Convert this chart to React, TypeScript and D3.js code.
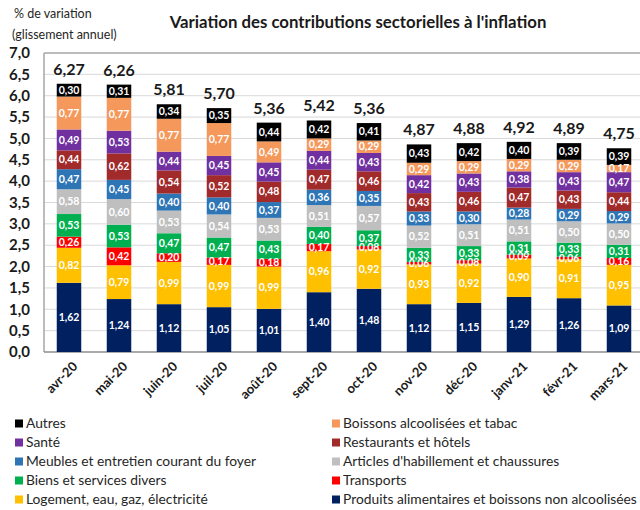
import React, { useRef, useEffect } from 'react';
import * as d3 from 'd3';

// months on the x axis
const months = ['avr-20', 'mai-20', 'juin-20', 'juil-20', 'août-20', 'sept-20', 'oct-20',
  'nov-20', 'déc-20', 'janv-21', 'févr-21', 'mars-21'];

// contributions, stacked from the bottom up
const alimentaires = [1.62, 1.24, 1.12, 1.05, 1.01, 1.40, 1.48, 1.12, 1.15, 1.29, 1.26, 1.09];
const logement = [0.82, 0.79, 0.99, 0.99, 0.99, 0.96, 0.92, 0.93, 0.92, 0.90, 0.91, 0.95];
const transports = [0.26, 0.42, 0.20, 0.17, 0.18, 0.17, 0.08, 0.06, 0.08, 0.09, 0.06, 0.16];
const biensDivers = [0.53, 0.53, 0.47, 0.47, 0.43, 0.40, 0.37, 0.33, 0.33, 0.31, 0.33, 0.31];
const habillement = [0.58, 0.60, 0.53, 0.54, 0.53, 0.51, 0.57, 0.52, 0.51, 0.51, 0.50, 0.50];
const meubles = [0.47, 0.45, 0.40, 0.40, 0.37, 0.36, 0.35, 0.33, 0.30, 0.28, 0.29, 0.29];
const restaurants = [0.44, 0.62, 0.54, 0.52, 0.48, 0.47, 0.46, 0.43, 0.46, 0.47, 0.43, 0.44];
const sante = [0.49, 0.53, 0.44, 0.45, 0.45, 0.44, 0.43, 0.42, 0.43, 0.38, 0.43, 0.47];
const boissons = [0.77, 0.77, 0.77, 0.77, 0.49, 0.29, 0.29, 0.29, 0.29, 0.29, 0.29, 0.17];
const autres = [0.30, 0.31, 0.34, 0.35, 0.44, 0.42, 0.41, 0.43, 0.42, 0.40, 0.39, 0.39];

// totals printed above the bars
const totals = [6.27, 6.26, 5.81, 5.70, 5.36, 5.42, 5.36, 4.87, 4.88, 4.92, 4.89, 4.75];

const yTicks = [0, 0.5, 1, 1.5, 2, 2.5, 3, 3.5, 4, 4.5, 5, 5.5, 6, 6.5, 7];

const series = [
  { key: 'alim', name: 'Produits alimentaires et boissons non alcoolisées', color: '#002060', values: alimentaires },
  { key: 'loge', name: 'Logement, eau, gaz, électricité', color: '#FFC000', values: logement },
  { key: 'trans', name: 'Transports', color: '#FF0000', values: transports },
  { key: 'biens', name: 'Biens et services divers', color: '#00B050', values: biensDivers },
  { key: 'habil', name: "Articles d'habillement et chaussures", color: '#BFBFBF', values: habillement },
  { key: 'meub', name: 'Meubles et entretien courant du foyer', color: '#2E75B6', values: meubles },
  { key: 'resto', name: 'Restaurants et hôtels', color: '#A12A2B', values: restaurants },
  { key: 'sante', name: 'Santé', color: '#7030A0', values: sante },
  { key: 'boiss', name: 'Boissons alcoolisées et tabac', color: '#F4985C', values: boissons },
  { key: 'autres', name: 'Autres', color: '#000000', values: autres },
];

// legend layout: left column / right column, top to bottom
const legendLeft = ['autres', 'sante', 'meub', 'biens', 'loge'];
const legendRight = ['boiss', 'resto', 'habil', 'trans', 'alim'];

const FONT = 'Lato, "Open Sans", sans-serif';
const fmt = (v: number, d: number) => v.toFixed(d).replace('.', ',');

function App() {
  const ref = useRef<SVGSVGElement>(null);

  useEffect(() => {
    document.body.style.margin = '0';
    if (!ref.current) return;
    const svg = d3.select(ref.current);
    svg.selectAll('*').remove();

    const left = 44, right = 644, top = 53, bottom = 352;

    const x = d3.scaleBand().domain(months).range([left, right]).paddingInner(0.51).paddingOuter(0.255);
    const y = d3.scaleLinear().domain([0, 7]).range([bottom, top]);

    // gridlines
    svg.append('g')
      .selectAll('line')
      .data(yTicks.filter(t => t > 0 && t < 7))
      .join('line')
      .attr('x1', left).attr('x2', 640)
      .attr('y1', d => y(d)).attr('y2', d => y(d))
      .attr('stroke', '#D9D9D9').attr('stroke-width', 1);

    // plot frame
    svg.append('line').attr('x1', left).attr('x2', 640).attr('y1', y(7)).attr('y2', y(7))
      .attr('stroke', '#A6A6A6').attr('stroke-width', 1.5);
    svg.append('line').attr('x1', left).attr('x2', left).attr('y1', y(7)).attr('y2', bottom)
      .attr('stroke', '#A6A6A6').attr('stroke-width', 1.5);
    svg.append('line').attr('x1', left).attr('x2', 640).attr('y1', bottom).attr('y2', bottom)
      .attr('stroke', '#8C8C8C').attr('stroke-width', 1.5);

    // y tick labels
    svg.append('g')
      .selectAll('text')
      .data(yTicks)
      .join('text')
      .attr('x', 30).attr('y', d => y(d))
      .attr('dy', '0.35em')
      .attr('text-anchor', 'end')
      .attr('font-family', FONT).attr('font-size', 15).attr('font-weight', 700)
      .attr('fill', '#1a1a1a')
      .text(d => fmt(d, 1));

    // stacked data
    const rows = months.map((m, i) => {
      const r: any = { month: m };
      series.forEach(s => { r[s.key] = s.values[i]; });
      return r;
    });
    const stack = d3.stack<any>().keys(series.map(s => s.key));
    const layers = stack(rows);

    const g = svg.append('g');
    layers.forEach((layer, li) => {
      const s = series[li];
      g.append('g')
        .selectAll('rect')
        .data(layer)
        .join('rect')
        .attr('x', d => x(d.data.month)!)
        .attr('width', x.bandwidth())
        .attr('y', d => y(d[1]))
        .attr('height', d => y(d[0]) - y(d[1]))
        .attr('fill', s.color);
    });
    layers.forEach((layer, li) => {
      const s = series[li];
      g.append('g')
        .selectAll('text')
        .data(layer)
        .join('text')
        .attr('x', d => x(d.data.month)! + x.bandwidth() / 2)
        .attr('y', d => y((d[0] + d[1]) / 2))
        .attr('dy', '0.35em')
        .attr('text-anchor', 'middle')
        .attr('font-family', FONT).attr('font-size', 10.5).attr('font-weight', 700)
        .attr('fill', '#FFFFFF')
        .text((d, i) => fmt(s.values[i], 2));
    });

    // totals
    const tops = layers[layers.length - 1];
    svg.append('g')
      .selectAll('text')
      .data(tops)
      .join('text')
      .attr('x', d => x(d.data.month)! + x.bandwidth() / 2)
      .attr('y', d => y(d[1]) - 9)
      .attr('text-anchor', 'middle')
      .attr('font-family', FONT).attr('font-size', 16).attr('font-weight', 700)
      .attr('fill', '#1a1a1a')
      .text((d, i) => fmt(totals[i], 2));

    // x labels
    svg.append('g')
      .selectAll('text')
      .data(months)
      .join('text')
      .attr('transform', d => `translate(${x(d)! + x.bandwidth() / 2 + 6},${bottom + 12}) rotate(-45)`)
      .attr('text-anchor', 'end')
      .attr('dy', '0.35em')
      .attr('font-family', FONT).attr('font-size', 13).attr('font-weight', 700)
      .attr('fill', '#1a1a1a')
      .text(d => d);

    // titles
    svg.append('text')
      .attr('x', 358).attr('y', 28)
      .attr('text-anchor', 'middle')
      .attr('font-family', FONT).attr('font-size', 16.8).attr('font-weight', 700)
      .attr('fill', '#1a1a1a')
      .text("Variation des contributions sectorielles à l'inflation");
    svg.append('text')
      .attr('x', 14).attr('y', 18)
      .attr('font-family', FONT).attr('font-size', 12.5)
      .attr('fill', '#262626')
      .text('% de variation');
    svg.append('text')
      .attr('x', 12).attr('y', 39)
      .attr('font-family', FONT).attr('font-size', 12.5)
      .attr('fill', '#262626')
      .text('(glissement annuel)');

    // legend
    const byKey = new Map(series.map(s => [s.key, s]));
    const legendRow = d3.scaleBand().domain(d3.range(5).map(String)).range([414, 509]);
    const drawCol = (keys: string[], x0: number) => {
      const items = svg.append('g').selectAll('g')
        .data(keys)
        .join('g')
        .attr('transform', (k, i) => `translate(${x0},${legendRow(String(i))! + legendRow.bandwidth() / 2})`);
      items.append('rect')
        .attr('x', 0).attr('y', -4).attr('width', 8).attr('height', 8)
        .attr('fill', k => byKey.get(k)!.color);
      items.append('text')
        .attr('x', 11).attr('dy', '0.35em')
        .attr('font-family', FONT).attr('font-size', 13.8)
        .attr('fill', '#262626')
        .text(k => byKey.get(k)!.name);
    };
    drawCol(legendLeft, 15);
    drawCol(legendRight, 332);
  }, []);

  return <svg ref={ref} width={640} height={510} style={{ display: 'block', background: '#fff' }} />;
}

export default App;
